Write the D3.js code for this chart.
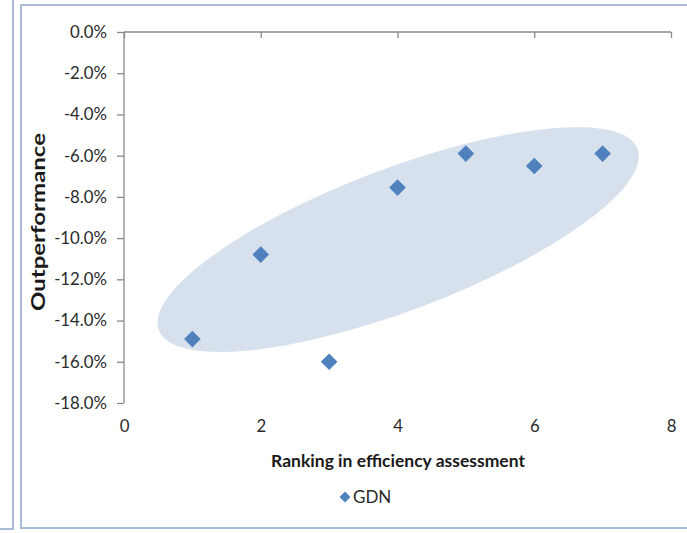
<!DOCTYPE html>
<html>
<head>
<meta charset="utf-8">
<script src="https://cdn.jsdelivr.net/npm/d3@7"></script>
<style>
  html, body { margin: 0; padding: 0; background: #fff; }
  svg { display: block; font-family: Lato, "Open Sans", sans-serif; }
</style>
</head>
<body>
<svg id="chart" width="687" height="533"></svg>
<script>
// GDN: outperformance against position in the efficiency ranking
const rankings = [1, 2, 3, 4, 5, 6, 7];
const outperformance = [-14.9, -10.8, -16.0, -7.55, -5.9, -6.5, -5.9];
const xTicks = [0, 2, 4, 6, 8];
const yTicks = [-18, -16, -14, -12, -10, -8, -6, -4, -2, 0];
const seriesName = "GDN";
const xTitle = "Ranking in efficiency assessment";
const yTitle = "Outperformance";

const svg = d3.select("#chart");
const frameColor = "#a8bcd8";
const axisColor = "#8a8a8a";
const textColor = "#2b2b2b";
const markerColor = "#4f81bd";
const labelSize = 16.8;

// panel frames
svg.append("path")
  .attr("d", "M13,0 V529 H0")
  .attr("fill", "none").attr("stroke", frameColor).attr("stroke-width", 2);
svg.append("path")
  .attr("d", "M700,5 H21 V528 H700")
  .attr("fill", "none").attr("stroke", frameColor).attr("stroke-width", 2);

const x = d3.scaleLinear().domain([0, 8]).range([124, 671]);
const y = d3.scaleLinear().domain([-18, 0]).range([403, 32]);

// highlight ellipse around the trend (centre in data units)
const ell = { cx: 4.01, cy: -10.07, rx: 256, ry: 71, angle: -20.75 };
svg.append("ellipse")
  .attr("transform", `translate(${x(ell.cx)},${y(ell.cy)}) rotate(${ell.angle})`)
  .attr("rx", ell.rx).attr("ry", ell.ry)
  .attr("fill", "#d7e1ee");

// x axis crosses at 0 (top edge); ticks only
const xTop = svg.append("g")
  .attr("transform", `translate(0,${y(0)})`)
  .call(d3.axisTop(x).tickValues(xTicks).tickSize(-6).tickFormat(""));
xTop.selectAll("path, line").attr("stroke", axisColor).attr("stroke-width", 1.3);
xTop.select(".domain").attr("d", `M${x(0)},0H${x(8)}`);

// x labels placed low
const xLow = svg.append("g")
  .attr("transform", `translate(0,${y(-18)})`)
  .call(d3.axisBottom(x).tickValues(xTicks).tickSize(0).tickPadding(17).tickFormat(d3.format("d")));
xLow.select(".domain").remove();
xLow.selectAll("text").attr("fill", textColor).attr("font-size", labelSize).attr("font-family", "Lato, sans-serif");

// y axis, plain hyphen for negatives
const pct = d => (d < 0 ? "-" : "") + Math.abs(d).toFixed(1) + "%";
const yAx = svg.append("g")
  .attr("transform", `translate(${x(0)},0)`)
  .call(d3.axisLeft(y).tickValues(yTicks).tickSize(7).tickPadding(10).tickFormat(pct));
yAx.selectAll("path, line").attr("stroke", axisColor).attr("stroke-width", 1.3);
yAx.select(".domain").attr("d", `M0,${y(0)}V${y(-18)}`);
yAx.selectAll("text").attr("fill", textColor).attr("font-size", labelSize).attr("font-family", "Lato, sans-serif");

// diamond markers
const diamond = r => `M0,${-r}L${r},0L0,${r}L${-r},0Z`;
svg.append("g").selectAll("path")
  .data(rankings.map((r, i) => ({ r, v: outperformance[i] })))
  .join("path")
  .attr("transform", d => `translate(${x(d.r)},${y(d.v)})`)
  .attr("d", diamond(8.3))
  .attr("fill", markerColor);

// axis titles
svg.append("text")
  .attr("x", 398).attr("y", 467)
  .attr("text-anchor", "middle")
  .attr("font-weight", "bold").attr("font-size", 17.5)
  .attr("fill", "#1a1a1a")
  .text(xTitle);

svg.append("text")
  .attr("transform", "translate(45,222) rotate(-90)")
  .attr("text-anchor", "middle")
  .attr("font-weight", "bold").attr("font-size", 18)
  .attr("textLength", 178).attr("lengthAdjust", "spacingAndGlyphs")
  .attr("fill", "#1a1a1a")
  .text(yTitle);

// legend
const leg = svg.append("g").attr("transform", "translate(345,497)");
leg.append("path").attr("d", diamond(5.5)).attr("fill", markerColor);
leg.append("text").attr("x", 8).attr("y", 6)
  .attr("font-size", 17).attr("fill", textColor)
  .text(seriesName);
</script>
</body>
</html>
